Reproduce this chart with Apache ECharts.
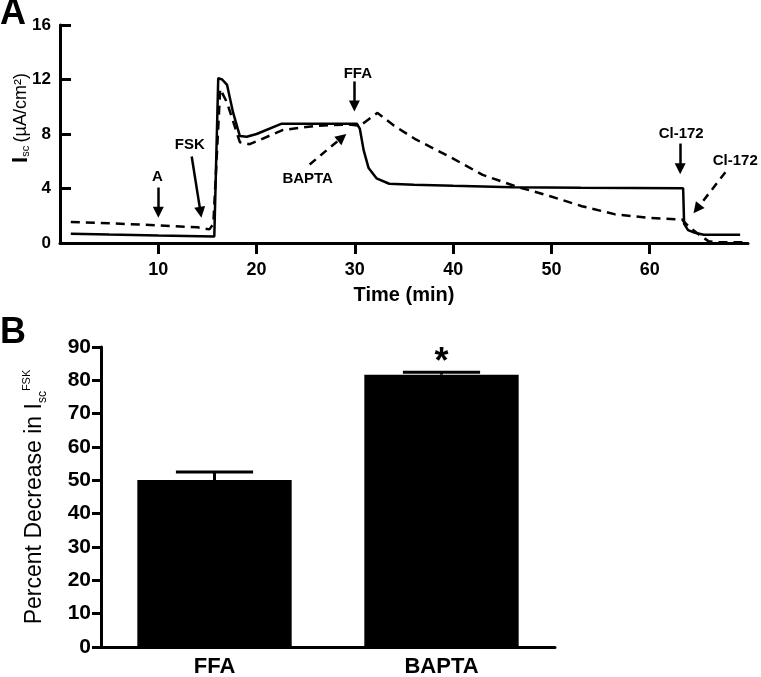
<!DOCTYPE html>
<html><head><meta charset="utf-8">
<script src="https://cdn.jsdelivr.net/npm/echarts@6/dist/echarts.min.js"></script>
<style>html,body{margin:0;padding:0;background:#fff}#c{width:761px;height:677px}</style>
</head><body><div id="c"></div>
<script>
// ---- Panel A data (time in min, Isc in µA/cm²) ----
const ffaTrace = [[1.1,0.68],[5,0.62],[10,0.55],[15.7,0.48],[16.1,12.1],[16.5,12.0],[17.0,11.6],[17.6,9.6],[18.3,7.85],[19.0,7.8],[20,8.0],[22.5,8.75],[30.2,8.75],[30.5,8.4],[30.9,6.8],[31.4,5.5],[32.2,4.75],[33.5,4.35],[36,4.27],[40,4.2],[46,4.1],[53,4.05],[63.4,4.02],[63.5,1.4],[63.9,0.95],[64.6,0.75],[65.5,0.6],[69.2,0.6]];
const baptaTrace = [[1.1,1.55],[5,1.45],[10,1.3],[14,1.15],[15.2,1.0],[15.6,1.4],[16.3,11.3],[17.0,10.3],[18.3,7.4],[19.3,7.25],[22.7,8.3],[26,8.6],[29.4,8.7],[30.5,8.6],[32.3,9.55],[34,8.6],[36.2,7.6],[39.6,6.35],[43,5.0],[46.4,4.15],[49.8,3.45],[53.1,2.7],[56.5,2.1],[59.9,1.85],[63.3,1.72],[63.7,1.4],[64.8,0.73],[66,0.12],[67,0.05],[69.7,0.05]];
const timeTicks = [10,20,30,40,50,60];
const iscTicks = [0,4,8,12,16];
const annoLabels = [
  {text:'A', t:9.9, v:4.87},
  {text:'FSK', t:13.2, v:7.23},
  {text:'FFA', t:30.3, v:12.45},
  {text:'BAPTA', t:25.2, v:4.73},
  {text:'Cl-172', t:63.2, v:8.04},
  {text:'Cl-172', t:68.7, v:6.0}
];
const annoArrows = [
  {from:[10,4.07], to:[10,2.25], dashed:false},
  {from:[13.4,6.35], to:[14.3,2.25], dashed:false},
  {from:[29.95,11.86], to:[29.95,10.05], dashed:false},
  {from:[25.4,5.76], to:[28.7,7.75], dashed:true},
  {from:[63.1,7.3], to:[63.1,5.45], dashed:false},
  {from:[67.7,5.19], to:[64.8,2.5], dashed:true}
];
// ---- Panel B data ----
const barCategories = ['FFA','BAPTA'];
const barValues = [50.1, 81.7];
const barErrors = [2.4, 0.7];
const barMarks = ['', '*'];
const pctTicks = [0,10,20,30,40,50,60,70,80,90];

const FONT = 'Liberation Sans, Arial, sans-serif';
const chart = echarts.init(document.getElementById('c'), null, {renderer:'canvas'});

const arrowData = annoArrows.map(a => [
  {coord:a.from, lineStyle:{type: a.dashed ? [8,6] : 'solid'}},
  {coord:a.to}
]);

const option = {
  animation:false,
  backgroundColor:'#fff',
  textStyle:{fontFamily:FONT, color:'#000'},
  graphic:[
    {type:'text', left:0, top:-4, style:{text:'A', font:'bold 36px '+FONT, fill:'#000'}},
    {type:'text', left:0, top:315, style:{text:'B', font:'bold 36px '+FONT, fill:'#000'}}
  ],
  grid:[
    {left:60, top:25, width:688, height:218, containLabel:false, outerBoundsMode:'none'},
    {left:101, top:347, width:454, height:300, containLabel:false, outerBoundsMode:'none'}
  ],
  xAxis:[
    {gridIndex:0, type:'value', min:0, max:70, interval:10,
     name:'Time (min)', nameLocation:'middle', nameGap:42, nameMoveOverlap:false,
     nameTextStyle:{fontSize:20, fontWeight:'bold', color:'#000', fontFamily:FONT},
     axisLine:{lineStyle:{color:'#000', width:3}},
     axisTick:{inside:false, length:11, lineStyle:{color:'#000', width:3}, customValues:timeTicks},
     axisLabel:{fontSize:18, fontWeight:'bold', color:'#000', margin:18, customValues:timeTicks, fontFamily:FONT},
     splitLine:{show:false}},
    {gridIndex:1, type:'category', data:barCategories,
     axisLine:{lineStyle:{color:'#000', width:3}},
     axisTick:{alignWithLabel:true, length:8, lineStyle:{color:'#000', width:3}},
     axisLabel:{fontSize:22, fontWeight:'bold', color:'#000', margin:9, fontFamily:FONT}}
  ],
  yAxis:[
    {gridIndex:0, type:'value', min:0, max:16, interval:4,
     name:'{b|I}{s|sc} {n|(µA/cm²)}', nameLocation:'middle', nameGap:29, nameRotate:90, nameMoveOverlap:false,
     nameTextStyle:{color:'#000', fontFamily:FONT, padding:[0,0,0,32], rich:{
       b:{fontSize:22, fontWeight:'bold', lineHeight:20, fontFamily:FONT, color:'#000'},
       s:{fontSize:11, lineHeight:12, verticalAlign:'bottom', fontFamily:FONT, color:'#000'},
       n:{fontSize:18, lineHeight:20, fontFamily:FONT, color:'#000'}
     }},
     axisLine:{show:true, lineStyle:{color:'#000', width:3}},
     axisTick:{show:true, inside:true, length:11, lineStyle:{color:'#000', width:3}},
     axisLabel:{fontSize:17, fontWeight:'bold', color:'#000', margin:9, fontFamily:FONT},
     splitLine:{show:false}},
    {gridIndex:1, type:'value', min:0, max:90, interval:10,
     name:'{m|Percent Decrease in I}{s|sc}{p|FSK}', nameLocation:'middle', nameGap:52, nameRotate:90, nameMoveOverlap:false,
     nameTextStyle:{color:'#000', fontFamily:FONT, rich:{
       m:{fontSize:23, lineHeight:28, fontFamily:FONT, color:'#000'},
       s:{fontSize:12, lineHeight:13, verticalAlign:'bottom', fontFamily:FONT, color:'#000'},
       p:{fontSize:11, lineHeight:13, verticalAlign:'top', fontFamily:FONT, color:'#000'}
     }},
     axisLine:{show:true, lineStyle:{color:'#000', width:3}},
     axisTick:{show:true, inside:false, length:9, lineStyle:{color:'#000', width:3}},
     axisLabel:{fontSize:21, fontWeight:'bold', color:'#000', margin:10, fontFamily:FONT},
     splitLine:{show:false}}
  ],
  series:[
    {type:'line', xAxisIndex:0, yAxisIndex:0, data:ffaTrace, showSymbol:false, symbol:'none',
     lineStyle:{color:'#000', width:2.5}, silent:true, clip:false},
    {type:'line', xAxisIndex:0, yAxisIndex:0, data:baptaTrace, showSymbol:false, symbol:'none',
     lineStyle:{color:'#000', width:2.5, type:[9,6]}, silent:true, clip:false},
    {type:'line', xAxisIndex:0, yAxisIndex:0, data:[], silent:true,
     markLine:{silent:true, symbol:['none','triangle'], symbolSize:11, animation:false,
       label:{show:false}, lineStyle:{color:'#000', width:2.5},
       emphasis:{disabled:true}, data:arrowData}},
    {type:'scatter', xAxisIndex:0, yAxisIndex:0, symbolSize:0, silent:true,
     itemStyle:{color:'#000', opacity:1},
     data:annoLabels.map(a => ({value:[a.t, a.v], label:{formatter:a.text}})),
     label:{show:true, position:'inside', fontSize:15, fontWeight:'bold', color:'#000', opacity:1,
            textBorderWidth:0, fontFamily:FONT}},
    {type:'bar', xAxisIndex:1, yAxisIndex:1, data:barValues, barWidth:'68%',
     itemStyle:{color:'#000'}, silent:true},
    {type:'custom', xAxisIndex:1, yAxisIndex:1, silent:true,
     data:barCategories.map((c,i) => [i, barValues[i], barErrors[i]]),
     renderItem:function(params, api){
       const i = params.dataIndex;
       const v = api.value(1), e = api.value(2);
       const base = api.coord([i, v]);
       const top = api.coord([i, v + e]);
       const capHalf = api.size([1,0])[0] * 0.17;
       const children = [
         {type:'line', shape:{x1:top[0], y1:base[1], x2:top[0], y2:top[1]}, style:{stroke:'#000', lineWidth:3}},
         {type:'line', shape:{x1:top[0]-capHalf, y1:top[1], x2:top[0]+capHalf, y2:top[1]}, style:{stroke:'#000', lineWidth:3}}
       ];
       if (barMarks[i]) {
         children.push({type:'text', x:top[0], y:top[1]-27,
           style:{text:barMarks[i], font:'bold 36px '+FONT, fill:'#000', textAlign:'center', textVerticalAlign:'top'}});
       }
       return {type:'group', children};
     }}
  ]
};
chart.setOption(option);
</script>
</body></html>
